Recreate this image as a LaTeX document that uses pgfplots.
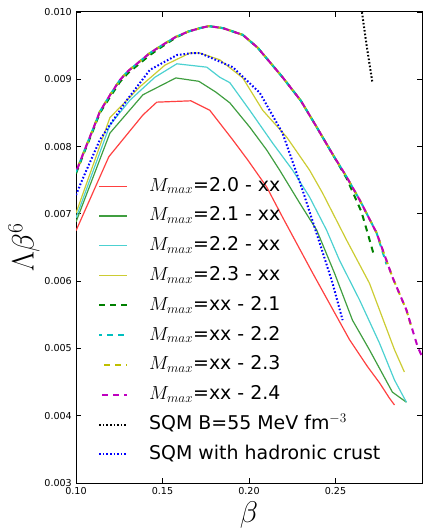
\documentclass[border=0pt]{standalone}
\usepackage{fix-cm}
\usepackage{fontspec}
\setmainfont{DejaVu Sans}
\usepackage{pgfplots}
\pgfplotsset{compat=1.18}

\definecolor{sr}{rgb}{1,0.25,0.25}
\definecolor{sg}{rgb}{0.25,0.62,0.25}
\definecolor{sc}{rgb}{0.3,0.82,0.82}
\definecolor{sy}{rgb}{0.8,0.8,0.2}
\definecolor{mg}{rgb}{0,0.5,0}
\definecolor{mc}{rgb}{0,0.75,0.75}
\definecolor{my}{rgb}{0.75,0.75,0}
\definecolor{mm}{rgb}{0.75,0,0.75}
\definecolor{mb}{rgb}{0,0,1}

\begin{document}
\begin{tikzpicture}
\begin{axis}[
  scale only axis, width=346bp, height=471bp,
  xmin=0.10, xmax=0.30, ymin=0.003, ymax=0.010,
  xtick={0.10,0.15,0.20,0.25},
  ytick={0.003,0.004,0.005,0.006,0.007,0.008,0.009,0.010},
  scaled ticks=false,
  xticklabel style={/pgf/number format/.cd, fixed, fixed zerofill, precision=2, assume math mode=true},
  yticklabel style={/pgf/number format/.cd, fixed, fixed zerofill, precision=3, assume math mode=true},
  ticklabel style={font=\fontsize{9.6}{11}\selectfont, inner sep=0pt},
  xticklabel shift=4bp, yticklabel shift=4bp,
  major tick length=5bp,
  tick style={black, line width=0.8bp},
  axis line style={line width=1bp},
  tick align=inside,
  xlabel={$\beta$}, ylabel={$\Lambda\beta^6$},
  xlabel style={font=\fontsize{30}{32}\selectfont, at={(axis description cs:0.5,0)}, yshift=-32bp, anchor=center},
  ylabel style={font=\fontsize{31}{33}\selectfont, at={(axis description cs:0,0.5)}, yshift=52bp, anchor=center},
  legend cell align=left,
  legend image code/.code={\draw[#1] (0bp,0bp) -- (28bp,0bp);},
  legend style={at={(axis description cs:0.0636,0.652)}, anchor=north west,
    draw=none, fill=none, inner sep=0pt,
    font=\fontsize{19}{22}\selectfont, row sep=9.8bp,
    nodes={inner sep=0pt, text height=15bp, text depth=5bp},
    /tikz/every odd column/.style={column sep=21bp}},
]
% solid
\addplot[draw=sr, line width=1.2bp] coordinates {
(0.100,0.00675) (0.119,0.00785) (0.1387,0.00847) (0.1467,0.00866) (0.1664,0.00868)
(0.1773,0.00854) (0.1906,0.00810) (0.1993,0.00780) (0.2102,0.00740) (0.2194,0.00695)
(0.2368,0.00612) (0.2454,0.00572) (0.2581,0.00513) (0.2685,0.00473) (0.2754,0.00449)
(0.2812,0.00426) (0.2841,0.00416)};
\addlegendentry{$M_{max}$=2.0 - xx}
\addplot[draw=sg, line width=1.2bp] coordinates {
(0.100,0.00688) (0.1196,0.00820) (0.1387,0.00877) (0.1577,0.00902) (0.1710,0.00897)
(0.1808,0.00881) (0.1889,0.00865) (0.2004,0.00829) (0.2102,0.00795) (0.2177,0.00765)
(0.2293,0.00716) (0.2391,0.00676) (0.2494,0.00612) (0.2598,0.00542) (0.2696,0.00498)
(0.2829,0.00435) (0.2910,0.00420)};
\addlegendentry{$M_{max}$=2.1 - xx}
\addplot[draw=sc, line width=1.2bp] coordinates {
(0.100,0.00694) (0.1196,0.00832) (0.1312,0.00869) (0.1456,0.00903) (0.1583,0.00923)
(0.1756,0.00918) (0.1831,0.00903) (0.1889,0.00895) (0.2004,0.00854) (0.2137,0.00805)
(0.2252,0.00765) (0.2350,0.00725) (0.2448,0.00676) (0.2523,0.00631) (0.2639,0.00572)
(0.2754,0.00508) (0.2841,0.00453) (0.2910,0.00420)};
\addlegendentry{$M_{max}$=2.2 - xx}
\addplot[draw=sy, line width=1.2bp] coordinates {
(0.100,0.00701) (0.1196,0.00843) (0.1370,0.00889) (0.1514,0.00921) (0.1658,0.00939)
(0.1716,0.00939) (0.1831,0.00929) (0.1964,0.00902) (0.2079,0.00854) (0.2218,0.00814)
(0.2350,0.00765) (0.2425,0.00731) (0.2564,0.00661) (0.2696,0.00597) (0.2841,0.00498)
(0.2898,0.00465)};
\addlegendentry{$M_{max}$=2.3 - xx}
% dashed
\addplot[draw=mg, line width=2bp, dash pattern=on 6bp off 5bp, dash phase=0bp] coordinates {
(0.100,0.00760) (0.105,0.00793) (0.110,0.00825) (0.1138,0.00850) (0.120,0.00875)
(0.1254,0.00896) (0.130,0.00909) (0.1427,0.00936) (0.150,0.00949) (0.1577,0.00962)
(0.165,0.00971) (0.1716,0.00976) (0.1768,0.00979) (0.185,0.00976) (0.1964,0.00966)
(0.205,0.00947) (0.2194,0.00903) (0.230,0.00868) (0.2391,0.00829) (0.2480,0.00790)
(0.2564,0.00753) (0.2650,0.00703) (0.2685,0.00672) (0.2725,0.00636)};
\addlegendentry{$M_{max}$=xx - 2.1}
\addplot[draw=mc, line width=2bp, dash pattern=on 6bp off 5bp, dash phase=3bp] coordinates {
(0.100,0.00762) (0.105,0.00795) (0.110,0.00827) (0.1138,0.00852) (0.120,0.00878)
(0.1254,0.00899) (0.130,0.00912) (0.1427,0.00939) (0.150,0.00951) (0.1577,0.00963)
(0.165,0.00971) (0.1716,0.00976) (0.1768,0.00979) (0.185,0.00976) (0.1964,0.00966)
(0.205,0.00947) (0.2194,0.00903) (0.230,0.00868) (0.2391,0.00829) (0.2480,0.00790)
(0.2564,0.00755) (0.2639,0.00721) (0.2737,0.00672) (0.2795,0.00625)};
\addlegendentry{$M_{max}$=xx - 2.2}
\addplot[draw=my, line width=2bp, dash pattern=on 6bp off 5bp, dash phase=6bp] coordinates {
(0.100,0.00762) (0.105,0.00795) (0.110,0.00827) (0.1138,0.00852) (0.120,0.00878)
(0.1254,0.00899) (0.130,0.00912) (0.1427,0.00939) (0.150,0.00951) (0.1577,0.00963)
(0.165,0.00971) (0.1716,0.00976) (0.1768,0.00979) (0.185,0.00976) (0.1964,0.00966)
(0.205,0.00947) (0.2194,0.00903) (0.230,0.00868) (0.2391,0.00829) (0.2480,0.00790)
(0.2564,0.00755) (0.2639,0.00721) (0.2737,0.00672) (0.2829,0.00606) (0.2910,0.00557)
(0.2935,0.00535)};
\addlegendentry{$M_{max}$=xx - 2.3}
\addplot[draw=mm, line width=2bp, dash pattern=on 6bp off 5bp, dash phase=8bp] coordinates {
(0.100,0.00762) (0.105,0.00795) (0.110,0.00827) (0.1138,0.00852) (0.120,0.00878)
(0.1254,0.00899) (0.130,0.00912) (0.1427,0.00939) (0.150,0.00951) (0.1577,0.00963)
(0.165,0.00971) (0.1716,0.00976) (0.1768,0.00979) (0.185,0.00976) (0.1964,0.00966)
(0.205,0.00947) (0.2194,0.00903) (0.230,0.00868) (0.2391,0.00829) (0.2480,0.00790)
(0.2564,0.00755) (0.2639,0.00721) (0.2737,0.00672) (0.2829,0.00606) (0.2910,0.00557)
(0.2974,0.00503) (0.300,0.00488)};
\addlegendentry{$M_{max}$=xx - 2.4}
% dotted
\addplot[draw=black, line width=2bp, dash pattern=on 1.6bp off 2bp] coordinates {
(0.2650,0.01005) (0.2680,0.00950) (0.2714,0.00894)};
\addlegendentry{SQM B=55 MeV fm$^{-3}$}
\addplot[draw=mb, line width=2bp, dash pattern=on 1.6bp off 2bp] coordinates {
(0.100,0.00728) (0.1035,0.00750) (0.1138,0.00810) (0.1294,0.00869) (0.1427,0.00914)
(0.1583,0.00936) (0.1675,0.00939) (0.1716,0.00939) (0.1906,0.00918) (0.2062,0.00880)
(0.2194,0.00820) (0.2310,0.00735) (0.2408,0.00657) (0.2483,0.00597) (0.2541,0.00542)};
\addlegendentry{SQM with hadronic crust}
\end{axis}
\pgfresetboundingbox
\path ([shift={(-76bp,-45bp)}]current axis.south west) rectangle ([shift={(0.5bp,12bp)}]current axis.north east);
\end{tikzpicture}
\end{document}
